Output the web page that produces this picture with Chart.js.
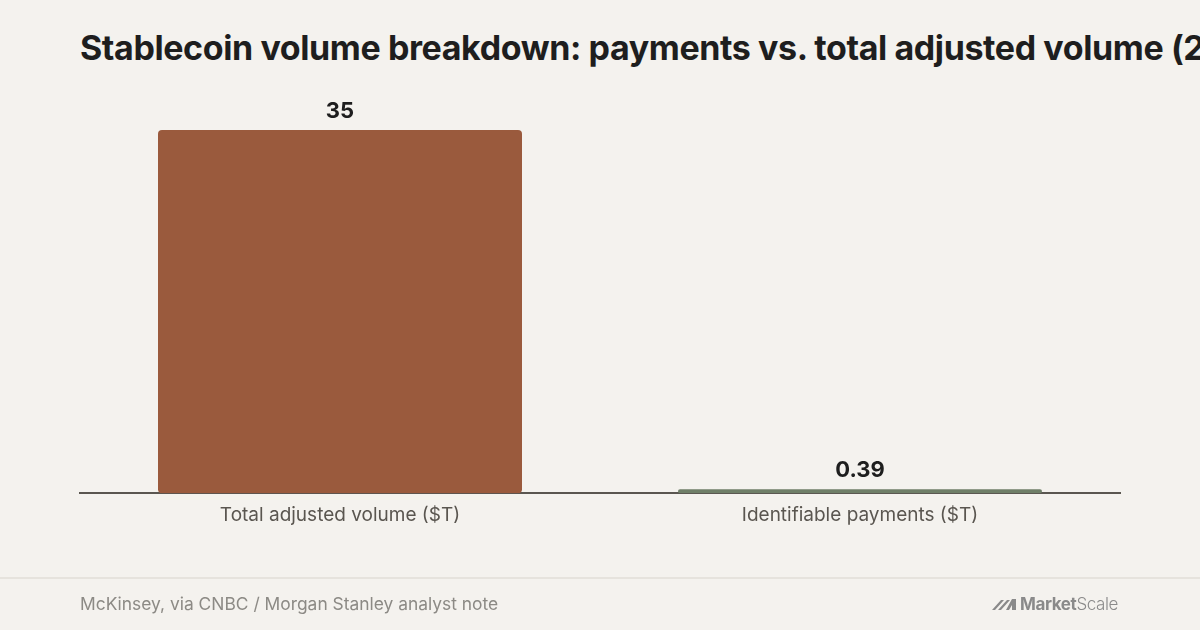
<!DOCTYPE html>
<html>
<head>
<meta charset="utf-8">
<script src="https://cdn.jsdelivr.net/npm/chart.js@4"></script>
<style>
  html, body { margin: 0; padding: 0; background: #f4f2ee; }
  #wrap { position: relative; width: 1200px; height: 630px; overflow: hidden; font-family: Inter, "Noto Sans", sans-serif; }
  #title { position: absolute; left: 80px; top: 27px; white-space: nowrap; font-weight: 700; font-size: 34px; letter-spacing: -0.4px; color: #1e1e1e; }
  #chart { position: absolute; left: 0; top: 0; }
  #footer { position: absolute; left: 0; top: 577px; width: 1200px; height: 53px; border-top: 2px solid #e6e3dd; }
  #source { position: absolute; left: 80px; top: 14px; font-size: 17.4px; color: #8c8a85; }
  #logo { position: absolute; right: 82px; top: 15px; font-size: 17px; color: #8a8a8a; display: flex; align-items: center; letter-spacing: -0.4px; }
  #logo b { font-weight: 700; }
  #logo span { font-weight: 300; }
</style>
</head>
<body>
<div id="wrap">
  <div id="title">Stablecoin volume breakdown: payments vs. total adjusted volume (2024)</div>
  <canvas id="chart" width="1200" height="630"></canvas>
  <div id="footer">
    <div id="source">McKinsey, via CNBC / Morgan Stanley analyst note</div>
    <div id="logo">
      <svg width="28" height="14" viewBox="0 0 28 14"><path d="M0 13 L9 3 L12 3 L3 13 Z M6 13 L15 3 L18 3 L9 13 Z M14 13 L20 2 L24 2 L24 13 L20 13 L20 8 L17 13 Z" fill="#8a8a8a"/></svg>
      <b>Market</b><span>Scale</span>
    </div>
  </div>
</div>
<script>
const categories = ["Total adjusted volume ($T)", "Identifiable payments ($T)"];
const values = [35, 0.39];
const valueLabels = ["35", "0.39"];
const barColors = ["#9a5a3d", "#6f7f68"];

const valueLabelPlugin = {
  id: "valueLabels",
  afterDatasetsDraw(chart) {
    const ctx = chart.ctx;
    const meta = chart.getDatasetMeta(0);
    ctx.save();
    ctx.font = "700 22px Inter, sans-serif";
    ctx.fillStyle = "#1e1e1e";
    ctx.textAlign = "center";
    ctx.textBaseline = "bottom";
    meta.data.forEach((bar, i) => {
      ctx.fillText(valueLabels[i], bar.x, bar.y - 8);
    });
    ctx.restore();
  }
};

new Chart(document.getElementById("chart"), {
  type: "bar",
  data: {
    labels: categories,
    datasets: [{
      data: values,
      backgroundColor: barColors,
      borderRadius: 4,
      borderSkipped: false,
      barPercentage: 0.7,
      categoryPercentage: 1
    }]
  },
  options: {
    responsive: false,
    animation: false,
    layout: { padding: { left: 80, right: 80, top: 130, bottom: 100 } },
    plugins: { legend: { display: false }, tooltip: { enabled: false } },
    scales: {
      x: {
        grid: { display: false },
        border: { color: "#5a5650", width: 2 },
        ticks: { color: "#5a5650", font: { family: "Inter", size: 19 }, padding: 3 }
      },
      y: { display: false, min: 0, max: 35 }
    }
  },
  plugins: [valueLabelPlugin]
});
</script>
</body>
</html>
